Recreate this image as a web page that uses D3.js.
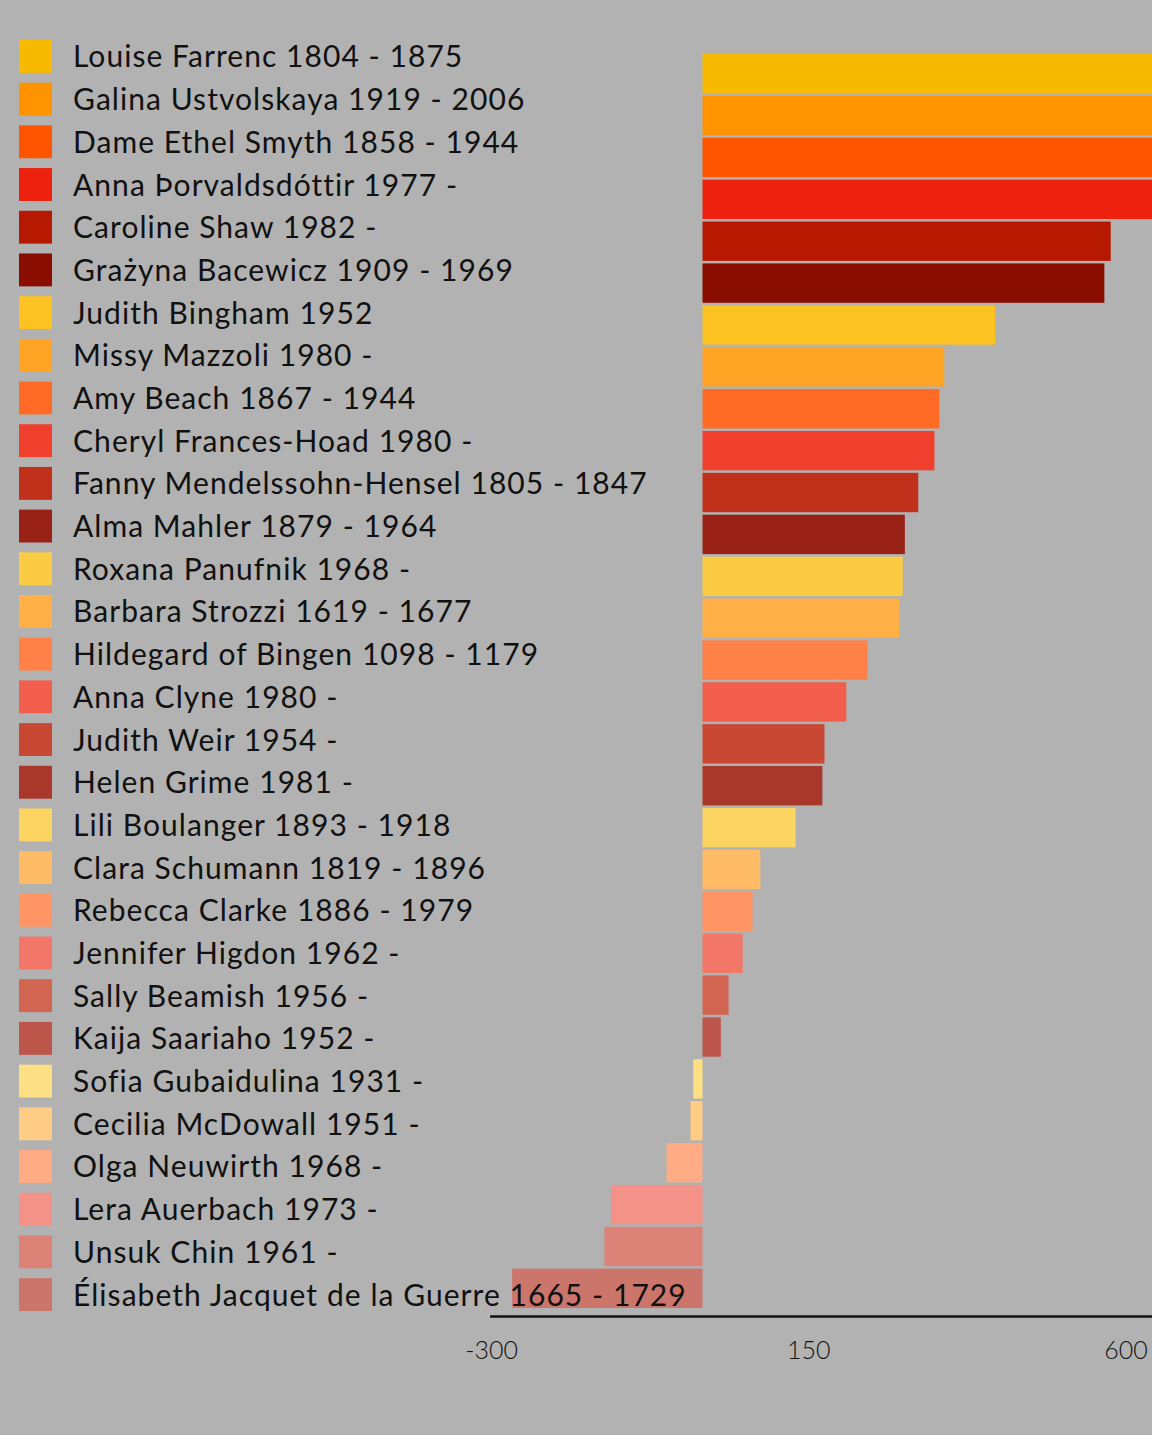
<!DOCTYPE html>
<html>
<head>
<meta charset="utf-8">
<script src="https://cdn.jsdelivr.net/npm/d3@7"></script>
<style>
  html, body { margin: 0; padding: 0; background: #b2b2b2; }
  svg { display: block; }
  .legend text { font-family: Lato, "Noto Sans", sans-serif; font-size: 30px; letter-spacing: 1.05px; fill: #111; }
  .axis text { font-family: Lato, "Noto Sans", sans-serif; font-weight: 300; font-size: 25px; fill: #111; }
  .axis path { stroke: #111; stroke-width: 2.5; }
</style>
</head>
<body>
<svg id="chart"></svg>
<script>
// composers, top to bottom
var names = [
  "Louise Farrenc 1804 - 1875",
  "Galina Ustvolskaya 1919 - 2006",
  "Dame Ethel Smyth 1858 - 1944",
  "Anna Þorvaldsdóttir 1977 -",
  "Caroline Shaw 1982 -",
  "Grażyna Bacewicz 1909 - 1969",
  "Judith Bingham 1952",
  "Missy Mazzoli 1980 -",
  "Amy Beach 1867 - 1944",
  "Cheryl Frances-Hoad 1980 -",
  "Fanny Mendelssohn-Hensel 1805 - 1847",
  "Alma Mahler 1879 - 1964",
  "Roxana Panufnik 1968 -",
  "Barbara Strozzi 1619 - 1677",
  "Hildegard of Bingen 1098 - 1179",
  "Anna Clyne 1980 -",
  "Judith Weir 1954 -",
  "Helen Grime 1981 -",
  "Lili Boulanger 1893 - 1918",
  "Clara Schumann 1819 - 1896",
  "Rebecca Clarke 1886 - 1979",
  "Jennifer Higdon 1962 -",
  "Sally Beamish 1956 -",
  "Kaija Saariaho 1952 -",
  "Sofia Gubaidulina 1931 -",
  "Cecilia McDowall 1951 -",
  "Olga Neuwirth 1968 -",
  "Lera Auerbach 1973 -",
  "Unsuk Chin 1961 -",
  "Élisabeth Jacquet de la Guerre 1665 - 1729"
];

// first four run off the right edge
var values = [900, 820, 760, 700, 579, 570, 415, 343, 336, 329, 306, 287, 284, 279,
  234, 204, 173, 170, 132, 82, 71, 57, 37, 26, -13, -17, -51, -130, -139, -270];

var colors = [
  "#f7ba00", "#ff9300", "#ff5400", "#ee200e", "#b71800", "#8a0e00",
  "#fbc221", "#ffa424", "#ff6b25", "#f0402d", "#c0301b", "#992116",
  "#facb43", "#ffb046", "#ff8147", "#f25e4c", "#c94834", "#a9372a",
  "#fcd462", "#ffbb65", "#ff9465", "#f27769", "#d26552", "#bc564a",
  "#fde083", "#ffcc85", "#ffab84", "#f59288", "#dd8276", "#cc756b"
];

var tickValues = [-300, 150, 600];

var width = 1152, height = 1435;

var svg = d3.select("#chart")
  .attr("width", width)
  .attr("height", height);

var x = d3.scaleLinear()
  .domain([-302, 640])
  .range([489.6, 489.6 + 942 * 0.705]);

var y = d3.scaleBand()
  .domain(names)
  .range([54, 1308])
  .paddingInner(0.06);

var ly = d3.scaleBand()
  .domain(names)
  .range([40, 1311])
  .paddingInner(0.23);

var color = d3.scaleOrdinal().domain(names).range(colors);

var rows = names.map(function(n, i) { return { name: n, value: values[i] }; });

// bars
svg.append("g")
  .selectAll("rect")
  .data(rows)
  .enter().append("rect")
    .attr("x", function(d) { return x(Math.min(0, d.value)); })
    .attr("y", function(d) { return y(d.name); })
    .attr("width", function(d) { return Math.abs(x(d.value) - x(0)); })
    .attr("height", y.bandwidth())
    .attr("fill", function(d) { return color(d.name); });

// axis, plain hyphen for negatives
svg.append("g")
  .attr("class", "axis")
  .attr("transform", "translate(0,1316)")
  .call(d3.axisBottom(x)
    .tickValues(tickValues)
    .tickFormat(function(d) { return String(d); })
    .tickSize(0).tickPadding(25).tickSizeOuter(0))
  .call(function(g) { g.selectAll("text").attr("fill", "#111"); });

// legend
var legend = svg.append("g").attr("class", "legend");
var item = legend.selectAll("g")
  .data(rows)
  .enter().append("g")
    .attr("transform", function(d) { return "translate(19," + ly(d.name) + ")"; });

item.append("rect")
  .attr("width", 33)
  .attr("height", ly.bandwidth())
  .attr("fill", function(d) { return color(d.name); });

item.append("text")
  .attr("x", 54)
  .attr("y", ly.bandwidth() / 2 + 11)
  .text(function(d) { return d.name; });
</script>
</body>
</html>
